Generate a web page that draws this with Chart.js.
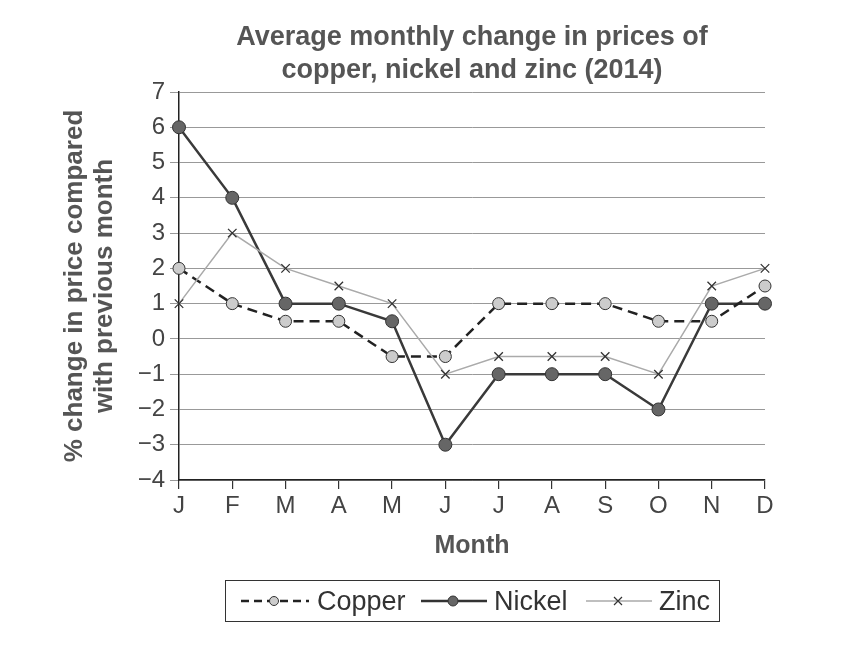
<!DOCTYPE html>
<html>
<head>
<meta charset="utf-8">
<script src="https://cdn.jsdelivr.net/npm/chart.js@4.4.1/dist/chart.umd.min.js"></script>
<style>
  body { margin: 0; background: #fff; }
  .wrap { position: relative; width: 862px; height: 653px; }
  .legend {
    position: absolute; left: 225px; top: 580px; width: 493px; height: 40px;
    border: 1.5px solid #333;
    font-family: "Liberation Sans", Arial, sans-serif; font-size: 27px; color: #333;
  }
  .legend .item { position: absolute; top: 0; height: 40px; display: flex; align-items: center; }
  .legend svg { margin-right: 6px; }
</style>
</head>
<body>
<div class="wrap">
  <canvas id="myChart" width="862" height="653"></canvas>
  <div class="legend">
    <div class="item" style="left: 13px;">
      <svg width="72" height="20"><line x1="2" y1="10" x2="70" y2="10" stroke="#222" stroke-width="2.5" stroke-dasharray="8,5"/><circle cx="35" cy="10" r="4.5" fill="#ccc" stroke="#333" stroke-width="1"/></svg>
      <span>Copper</span>
    </div>
    <div class="item" style="left: 194px;">
      <svg width="68" height="20"><line x1="1" y1="10" x2="67" y2="10" stroke="#333" stroke-width="2.5"/><circle cx="33" cy="10" r="5" fill="#666" stroke="#333" stroke-width="1"/></svg>
      <span>Nickel</span>
    </div>
    <div class="item" style="left: 359px;">
      <svg width="68" height="20"><line x1="1" y1="10" x2="67" y2="10" stroke="#aaa" stroke-width="1.5"/><path d="M29 6 L37 14 M37 6 L29 14" stroke="#333" stroke-width="1.2"/></svg>
      <span>Zinc</span>
    </div>
  </div>
</div>
<script>
const months = ['J', 'F', 'M', 'A', 'M', 'J', 'J', 'A', 'S', 'O', 'N', 'D'];
const copper = [2, 1, 0.5, 0.5, -0.5, -0.5, 1, 1, 1, 0.5, 0.5, 1.5];
const nickel = [6, 4, 1, 1, 0.5, -3, -1, -1, -1, -2, 1, 1];
const zinc = [1, 3, 2, 1.5, 1, -1, -0.5, -0.5, -0.5, -1, 1.5, 2];
const titleLines = ['Average monthly change in prices of', 'copper, nickel and zinc (2014)'];
const yTitleLines = ['% change in price compared', 'with previous month'];

const fontFamily = '"Liberation Sans", Arial, sans-serif';

// title centred over the plot area, not the canvas
const titlePlugin = {
  id: 'plotTitle',
  afterDraw(chart) {
    const ctx = chart.ctx;
    const area = chart.chartArea;
    ctx.save();
    ctx.font = 'bold 27px ' + fontFamily;
    ctx.fillStyle = '#555';
    ctx.textAlign = 'center';
    ctx.textBaseline = 'middle';
    const cx = (area.left + area.right) / 2;
    ctx.fillText(titleLines[0], cx, 38);
    ctx.fillText(titleLines[1], cx, 71);
    ctx.restore();
  }
};

const ctx = document.getElementById('myChart').getContext('2d');
new Chart(ctx, {
  type: 'line',
  data: {
    labels: months,
    datasets: [
      {
        label: 'Zinc',
        data: zinc,
        borderColor: '#aaa',
        borderWidth: 1.5,
        pointStyle: 'crossRot',
        pointRadius: 6,
        pointBorderColor: '#333',
        pointBorderWidth: 1.3,
        tension: 0
      },
      {
        label: 'Copper',
        data: copper,
        borderColor: '#222',
        borderWidth: 2.5,
        borderDash: [10, 6],
        pointRadius: 6,
        pointBackgroundColor: '#ccc',
        pointBorderColor: '#333',
        pointBorderWidth: 1,
        tension: 0
      },
      {
        label: 'Nickel',
        data: nickel,
        borderColor: '#3a3a3a',
        borderWidth: 2.5,
        pointRadius: 6.5,
        pointBackgroundColor: '#666',
        pointBorderColor: '#333',
        pointBorderWidth: 1,
        tension: 0
      }
    ]
  },
  options: {
    responsive: false,
    animation: false,
    layout: { padding: { left: 0, right: 97, top: 92, bottom: 88 } },
    plugins: {
      legend: { display: false },
      title: { display: false },
      tooltip: { enabled: false }
    },
    scales: {
      x: {
        offset: false,
        grid: { drawOnChartArea: false, drawTicks: true, tickLength: 9, color: '#333', lineWidth: 1.2 },
        border: { color: '#222', width: 1.5 },
        ticks: { color: '#444', font: { family: fontFamily, size: 24 }, padding: 3, maxRotation: 0 },
        title: {
          display: true, text: 'Month', color: '#555',
          font: { family: fontFamily, size: 25, weight: 'bold' },
          padding: { top: 0, bottom: 4 }
        },
        afterFit(scale) { scale.height = 85; }
      },
      y: {
        min: -4,
        max: 7,
        grid: { color: '#999', lineWidth: 1, tickLength: 9, drawTicks: true },
        border: { color: '#222', width: 1.5 },
        ticks: {
          stepSize: 1,
          color: '#444',
          font: { family: fontFamily, size: 24 },
          padding: 5,
          callback: (v) => (v < 0 ? '\u2212' + Math.abs(v) : String(v))
        },
        title: {
          display: true,
          text: yTitleLines,
          color: '#555',
          font: { family: fontFamily, size: 26, weight: 'bold', lineHeight: 1.15 },
          padding: { top: 60, bottom: 0 }
        },
        afterFit(scale) { scale.width = 179; }
      }
    }
  },
  plugins: [titlePlugin]
});
</script>
</body>
</html>
